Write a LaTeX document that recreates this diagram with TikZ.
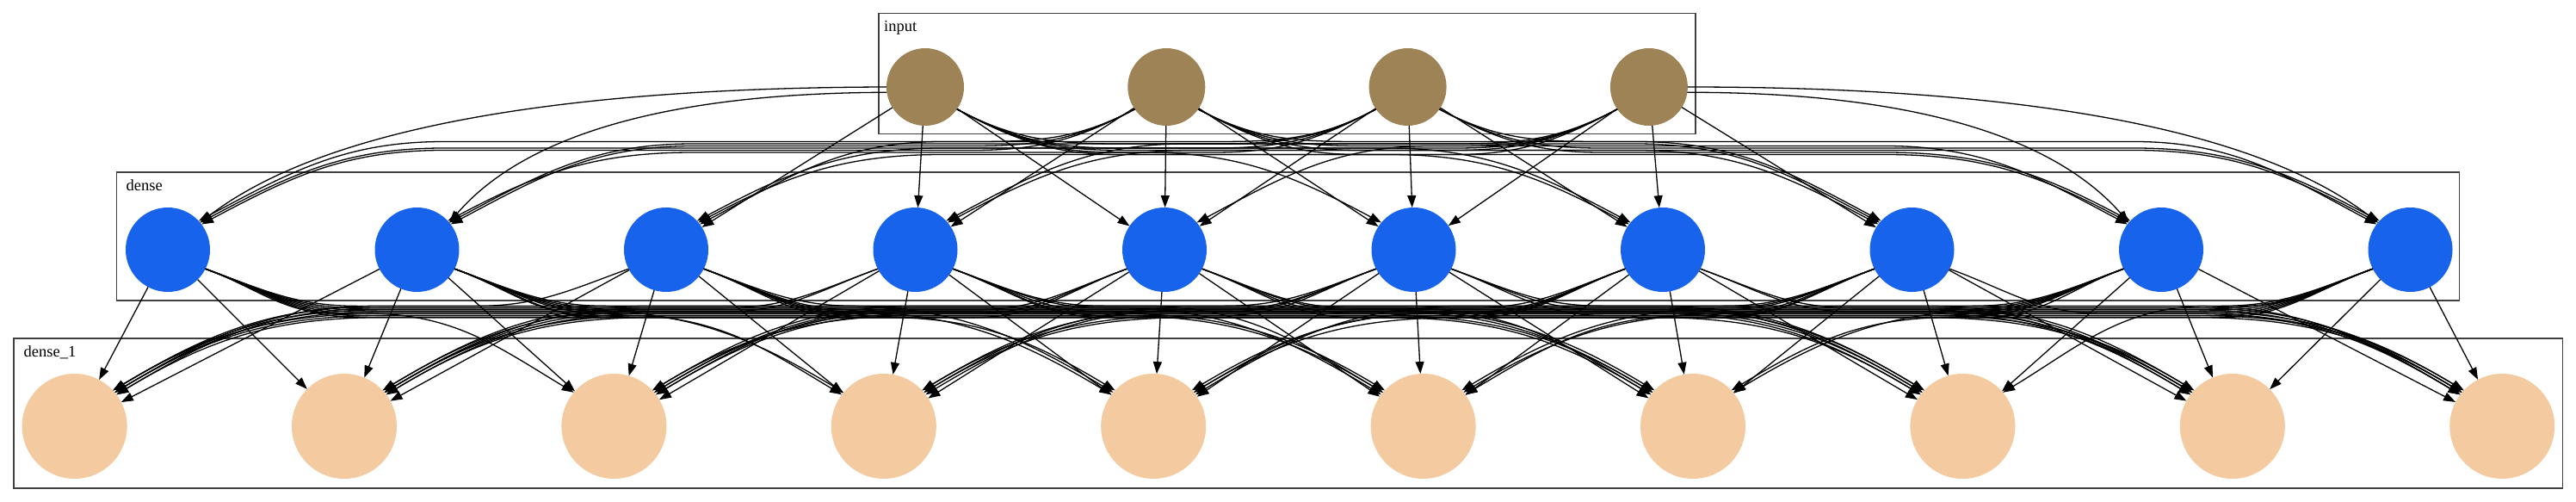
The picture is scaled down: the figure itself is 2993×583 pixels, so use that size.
\documentclass[tikz,border=0pt]{standalone}
\usepackage{fontspec}
\setmainfont{Liberation Serif}
\usetikzlibrary{arrows.meta}
\definecolor{inbrown}{RGB}{158,131,86}
\definecolor{dblue}{RGB}{23,99,236}
\definecolor{peach}{RGB}{244,202,160}
\begin{document}
\begin{tikzpicture}[x=1pt,y=1pt,
  innode/.style={circle,fill=inbrown,minimum size=90pt,inner sep=0pt,outer sep=0pt},
  dnode/.style={circle,fill=dblue,minimum size=98pt,inner sep=0pt,outer sep=0pt},
  onode/.style={circle,fill=peach,minimum size=122pt,inner sep=0pt,outer sep=0pt},
  conn/.style={line width=1.3pt,-{Triangle[length=14pt,width=10pt]}},
  clusterbox/.style={draw=black!75,line width=1.3pt},
  clabel/.style={anchor=base west,inner sep=0pt,font=\fontsize{18.5}{22}\selectfont}]
\useasboundingbox (0,0) rectangle (2993,-583);
% clusters
\draw[clusterbox] (1021,-15.7) rectangle (1970,-155.7);
\draw[clusterbox] (135.7,-200) rectangle (2857.6,-349);
\draw[clusterbox] (16,-393) rectangle (2977.5,-567);
\node[clabel] (linput) at (1027,-36.7) {input};
\node[clabel] (ldense) at (146.5,-221) {dense};
\node[clabel] (ldenseone) at (27.5,-414) {dense\_1};
% nodes
\foreach \k in {1,...,4}{\pgfmathsetmacro\myxx{1075+280.3*(\k-1)}\node[innode] (i\k) at (\myxx,-101) {};}
\foreach \j in {1,...,10}{\pgfmathsetmacro\myxx{195+289.5*(\j-1)}\node[dnode] (d\j) at (\myxx,-290) {};}
\foreach \j in {1,...,10}{\pgfmathsetmacro\myxx{86.6+313.4*(\j-1)}\node[onode] (o\j) at (\myxx,-495) {};}
% input -> dense
\foreach \k in {1,...,4}{
 \foreach \j in {1,...,10}{
  \pgfmathtruncatemacro\mym{\j-\k-3}
  \pgfmathtruncatemacro\myam{abs(\mym)}
  \pgfmathtruncatemacro\myside{((\k==1)&&(\mym<0))||((\k==4)&&(\mym>0))}
  \ifnum\myam<2
   \draw[conn] (i\k) -- (d\j);
  \else\ifnum\myside=0
   \pgfmathsetmacro\myxs{1075+280.3*(\k-1)}
   \pgfmathsetmacro\myxt{195+289.5*(\j-1)}
   \pgfmathsetmacro\myadx{abs(\myxt-\myxs)}
   \pgfmathtruncatemacro\mydir{(\mym>0)?1:-1}
   \pgfmathsetmacro\myax{\myxs+(\mydir)*min(225,0.39*\myadx)}
   \pgfmathsetmacro\mybx{\myxt-(\mydir)*min(320,0.55*\myadx)}
   \pgfmathsetmacro\myyc{-172-2.5*(mod(3*\k+5*\j,7)-3)}
   \pgfmathtruncatemacro\mysa{90-(\mydir)*125}
   \pgfmathtruncatemacro\myoa{90-(\mydir)*118}
   \pgfmathtruncatemacro\myia{90+(\mydir)*90}
   \pgfmathtruncatemacro\myob{90-(\mydir)*90}
   \pgfmathtruncatemacro\myib{90+(\mydir)*62}
   \pgfmathtruncatemacro\myta{90+(\mydir)*(47+mod(\k,3)*3)}
   \draw[conn] (i\k.\mysa) to[out=\myoa,in=\myia] (\myax,\myyc) -- (\mybx,\myyc) to[out=\myob,in=\myib] (d\j.\myta);
  \fi\fi
 }
}
% side arcs
\draw[conn] (i1.180) .. controls (647,-102) and (376,-149) .. (d1.40);
\draw[conn] (i1.188) .. controls (786,-108) and (613,-153) .. (d2.40);
\draw[conn] (i4.0) .. controls (2346,-101) and (2618,-148) .. (d10.140);
\draw[conn] (i4.-8) .. controls (2207,-107) and (2381,-153) .. (d9.140);
% dense -> dense_1
\foreach \i in {1,...,10}{
 \foreach \j in {1,...,10}{
  \pgfmathtruncatemacro\mym{\j-\i}
  \pgfmathtruncatemacro\myam{abs(\mym)}
  \ifnum\myam<2
   \draw[conn] (d\i) -- (o\j);
  \else
   \pgfmathsetmacro\myxs{195+289.5*(\i-1)}
   \pgfmathsetmacro\myxt{86.6+313.4*(\j-1)}
   \pgfmathsetmacro\myadx{abs(\myxt-\myxs)}
   \pgfmathtruncatemacro\mydir{(\mym>0)?1:-1}
   \pgfmathsetmacro\myax{\myxs+(\mydir)*min(220,0.38*\myadx)}
   \pgfmathsetmacro\mybx{\myxt-(\mydir)*min(360,0.55*\myadx)}
   \pgfmathsetmacro\myyc{-362-2.2*(mod(3*\i+5*\j,7)-3)}
   \pgfmathtruncatemacro\mysa{90-(\mydir)*117}
   \pgfmathtruncatemacro\myoa{90-(\mydir)*110}
   \pgfmathtruncatemacro\myia{90+(\mydir)*90}
   \pgfmathtruncatemacro\myob{90-(\mydir)*90}
   \pgfmathtruncatemacro\myib{90+(\mydir)*59}
   \pgfmathtruncatemacro\myta{90+(\mydir)*(47+mod(\i,3)*3)}
   \draw[conn] (d\i.\mysa) to[out=\myoa,in=\myia] (\myax,\myyc) -- (\mybx,\myyc) to[out=\myob,in=\myib] (o\j.\myta);
  \fi
 }
}
\end{tikzpicture}
\end{document}
